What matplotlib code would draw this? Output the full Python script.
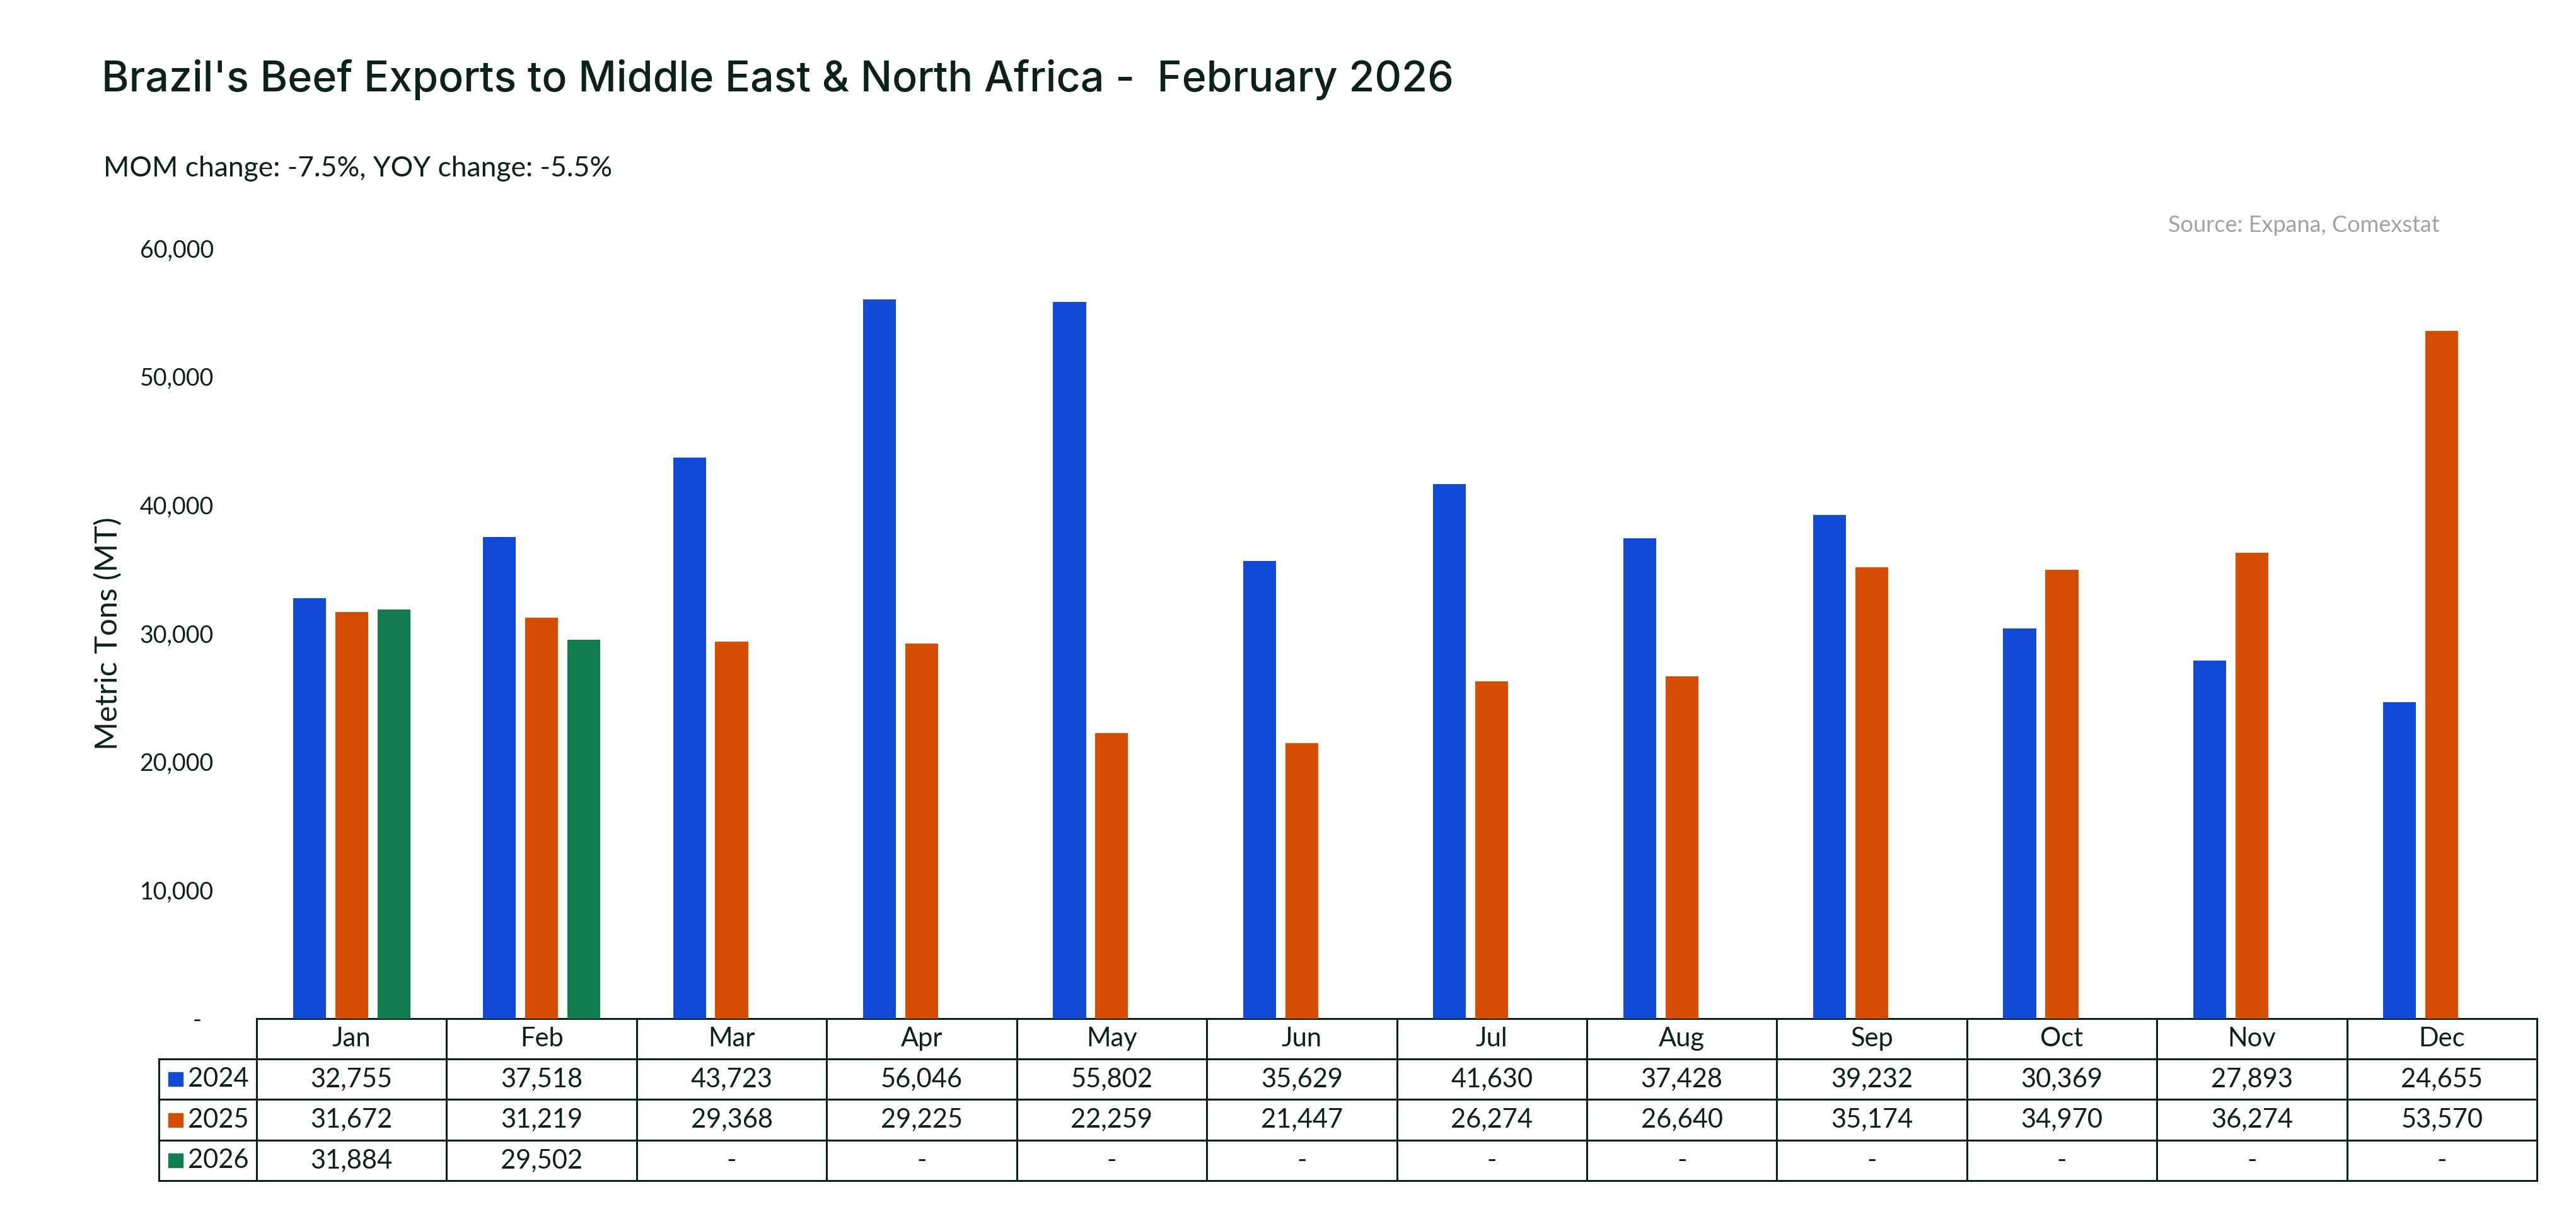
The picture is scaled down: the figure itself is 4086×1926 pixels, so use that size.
#Brazil beef exports to MENA - monthly bar chart with data table underneath

import numpy as np
import matplotlib.pyplot as plt
from matplotlib.patches import Rectangle

plt.rcParams['font.family'] = ['Lato', 'DejaVu Sans']

#data
months = ['Jan', 'Feb', 'Mar', 'Apr', 'May', 'Jun', 'Jul', 'Aug', 'Sep', 'Oct', 'Nov', 'Dec']
years = ['2024', '2025', '2026']
exp_2024 = [32755, 37518, 43723, 56046, 55802, 35629, 41630, 37428, 39232, 30369, 27893, 24655]
exp_2025 = [31672, 31219, 29368, 29225, 22259, 21447, 26274, 26640, 35174, 34970, 36274, 53570]
exp_2026 = [31884, 29502, np.nan, np.nan, np.nan, np.nan, np.nan, np.nan, np.nan, np.nan, np.nan, np.nan]

series = [exp_2024, exp_2025, exp_2026]
colors = ['#144bd6', '#d64e04', '#0f7d4d']
txt_col = '#0b2218'

W, H = 4087, 1926
fig = plt.figure(figsize=(W / 100, H / 100), dpi=100)
ax = fig.add_axes([407 / W, 1 - 1616 / H, (4024 - 407) / W, (1616 - 394) / H])

x = np.arange(len(months))
bw = 0.173
step = 0.222
for i, vals in enumerate(series):
    ax.bar(x + (i - 1) * step, vals, width=bw, color=colors[i], zorder=2)

ax.set_xlim(-0.5, len(months) - 0.5)
ax.set_ylim(0, 60000)
ax.set_yticks(range(0, 60001, 10000))
ax.set_yticklabels(['-  '] + [f'{v:,}' for v in range(10000, 60001, 10000)])
ax.tick_params(axis='y', length=0, pad=49, labelsize=27, labelcolor=txt_col)
ax.set_xticks([])
for s in ax.spines.values():
    s.set_visible(False)
ax.set_ylabel('Metric Tons (MT)', fontsize=35, color=txt_col, labelpad=20)

#data table
def fmt(v):
    return '-' if np.isnan(v) else f'{v:,.0f}'

cell_text = [[y] + [fmt(v) for v in vals] for y, vals in zip(years, series)]
label_w = 155
col_w = (4024 - 407) / 12
tab_left = (252 - 407) / (4024 - 407)
tab_h = (1873 - 1616) / (1616 - 394)
tbl = ax.table(cellText=cell_text, colLabels=[''] + months,
               colWidths=[label_w] + [col_w] * 12, cellLoc='center',
               bbox=[tab_left, -tab_h, 1 - tab_left, tab_h])
tbl.auto_set_font_size(False)
tbl.set_fontsize(30)
for (r, c), cell in tbl.get_celld().items():
    cell.set_edgecolor(txt_col)
    cell.set_linewidth(2.2)
    cell.get_text().set_color(txt_col)
    if c == 0:
        cell.get_text().set_horizontalalignment('left')
        cell.PAD = 0.3
        cell._loc = 'left'
    if r == 0 and c == 0:
        cell.visible_edges = 'BR'

#legend squares in the row label cells
row_h = tab_h / 4
sq_w = 23 / (4024 - 407)
sq_h = 22 / (1616 - 394)
for i in range(3):
    yc = -row_h * (i + 1.5)
    ax.add_patch(Rectangle(((267 - 407) / (4024 - 407), yc - sq_h / 2), sq_w, sq_h,
                           transform=ax.transAxes, color=colors[i], clip_on=False))

title = fig.text(161 / W, 1 - 145 / H, "Brazil's Beef Exports to Middle East & North Africa -  February 2026",
                 fontsize=50, color=txt_col, va='baseline', ha='left',
                 family=['Inter', 'Roboto', 'DejaVu Sans'], fontweight='medium')
#fit the title to the reference width
r = fig.canvas.get_renderer()
tw = title.get_window_extent(renderer=r).width
title.set_fontsize(50 * 2144 / tw)

fig.text(164 / W, 1 - 280 / H, 'MOM change: -7.5%, YOY change: -5.5%',
         fontsize=32, color=txt_col, va='baseline', ha='left')
fig.text(3870 / W, 1 - 368 / H, 'Source: Expana, Comexstat',
         fontsize=26, color='#a3a3a3', va='baseline', ha='right')

plt.savefig('out.png', dpi=100)
